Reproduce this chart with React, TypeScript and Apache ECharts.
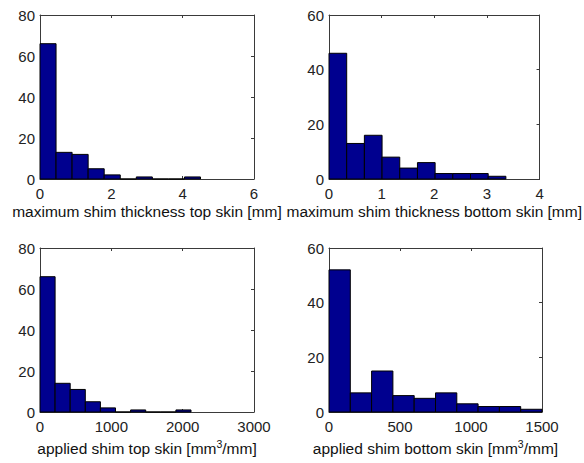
import React, { useEffect, useRef } from "react";
import * as echarts from "echarts";

// Histogram counts (10 bins each) and the data range the bins span
const maxTopCounts = [66, 13, 12, 5, 2, 0, 1, 0, 0, 1];
const maxTopRange = [0, 4.5];
const maxBottomCounts = [46, 13, 16, 8, 4, 6, 2, 2, 2, 1];
const maxBottomRange = [0, 3.36];
const volTopCounts = [66, 14, 11, 5, 2, 0, 1, 0, 0, 1];
const volTopRange = [0, 2117];
const volBottomCounts = [52, 7, 15, 6, 5, 7, 3, 2, 2, 1];
const volBottomRange = [0, 1500];

// Axis settings [min, max, interval]
const xAxes = [
  [0, 6, 2],
  [0, 4, 1],
  [0, 3000, 1000],
  [0, 1500, 500],
];
const yAxes = [
  [0, 80, 20],
  [0, 60, 20],
  [0, 80, 20],
  [0, 60, 20],
];
const xNames = [
  "maximum shim thickness top skin [mm]",
  "maximum shim thickness bottom skin [mm]",
  "applied shim top skin [mm{sup|3}/mm]",
  "applied shim bottom skin [mm{sup|3}/mm]",
];

const FONT = "'Liberation Sans', Arial, Helvetica, sans-serif";
const AXIS_COLOR = "#3a3a3a";
const BAR_COLOR = "#00008F";

function binsOf(counts: number[], range: number[]) {
  const w = (range[1] - range[0]) / counts.length;
  return counts.map((c, i) => [range[0] + i * w, range[0] + (i + 1) * w, c]);
}

export default function App() {
  const ref = useRef<HTMLDivElement>(null);
  useEffect(() => {
    if (!ref.current) return;
    const chart = echarts.init(ref.current, undefined, { renderer: "svg" });
    const grids = [
      { left: 40, top: 15, width: 214, height: 164 },
      { left: 329, top: 15, width: 214, height: 164 },
      { left: 40, top: 248, width: 214, height: 164 },
      { left: 329, top: 248, width: 213, height: 164 },
    ];
    const hist = [
      binsOf(maxTopCounts, maxTopRange),
      binsOf(maxBottomCounts, maxBottomRange),
      binsOf(volTopCounts, volTopRange),
      binsOf(volBottomCounts, volBottomRange),
    ];
    const xAxis: any[] = [];
    const yAxis: any[] = [];
    const series: any[] = [];
    grids.forEach((_, i) => {
      const [xmin, xmax, xint] = xAxes[i];
      const [ymin, ymax, yint] = yAxes[i];
      const sup = i >= 2;
      xAxis.push({
        type: "value",
        gridIndex: i,
        min: xmin,
        max: xmax,
        interval: xint,
        position: "bottom",
        name: xNames[i],
        nameLocation: "middle",
        nameGap: sup ? 26 : 22,
        nameTextStyle: {
          fontFamily: FONT,
          fontSize: 15.5,
          color: "#111",
          lineHeight: 20,
          rich: {
            sup: {
              fontFamily: FONT,
              fontSize: 10.5,
              color: "#111",
              lineHeight: 10,
              verticalAlign: "top",
            },
          },
        },
        axisLine: { show: true, onZero: false, lineStyle: { color: AXIS_COLOR, width: 1 } },
        axisTick: { show: true, inside: true, length: 3, lineStyle: { color: AXIS_COLOR } },
        axisLabel: {
          fontFamily: FONT,
          fontSize: 15,
          color: "#222",
          margin: 7,
          formatter: (v: number) => String(v),
        },
        splitLine: { show: false },
      });
      xAxis.push({
        type: "value",
        gridIndex: i,
        min: xmin,
        max: xmax,
        interval: xint,
        position: "top",
        axisLine: { show: true, onZero: false, lineStyle: { color: AXIS_COLOR, width: 1 } },
        axisTick: { show: true, inside: true, length: 3, lineStyle: { color: AXIS_COLOR } },
        axisLabel: { show: false },
        splitLine: { show: false },
      });
      yAxis.push({
        type: "value",
        gridIndex: i,
        min: ymin,
        max: ymax,
        interval: yint,
        position: "left",
        axisLine: { show: true, onZero: false, lineStyle: { color: AXIS_COLOR, width: 1 } },
        axisTick: { show: true, inside: true, length: 3, lineStyle: { color: AXIS_COLOR } },
        axisLabel: {
          fontFamily: FONT,
          fontSize: 15,
          color: "#222",
          margin: 5,
          formatter: (v: number) => String(v),
        },
        splitLine: { show: false },
      });
      yAxis.push({
        type: "value",
        gridIndex: i,
        min: ymin,
        max: ymax,
        interval: yint,
        position: "right",
        axisLine: { show: true, onZero: false, lineStyle: { color: AXIS_COLOR, width: 1 } },
        axisTick: { show: true, inside: true, length: 3, lineStyle: { color: AXIS_COLOR } },
        axisLabel: { show: false },
        splitLine: { show: false },
      });
      series.push({
        type: "custom",
        xAxisIndex: i * 2,
        yAxisIndex: i * 2,
        data: hist[i],
        renderItem: (params: any, api: any) => {
          const x0 = api.value(0);
          const x1 = api.value(1);
          const c = api.value(2);
          const p0 = api.coord([x0, 0]);
          const p1 = api.coord([x1, c]);
          return {
            type: "rect",
            shape: {
              x: p0[0],
              y: p1[1],
              width: p1[0] - p0[0],
              height: p0[1] - p1[1],
            },
            style: { fill: BAR_COLOR, stroke: "#000", lineWidth: 1 },
          };
        },
      });
    });
    chart.setOption({
      animation: false,
      backgroundColor: "#fff",
      grid: grids,
      xAxis,
      yAxis,
      series,
    });
    return () => chart.dispose();
  }, []);
  return (
    <div
      ref={ref}
      style={{ position: "absolute", left: 0, top: 0, width: 584, height: 463 }}
    />
  );
}
